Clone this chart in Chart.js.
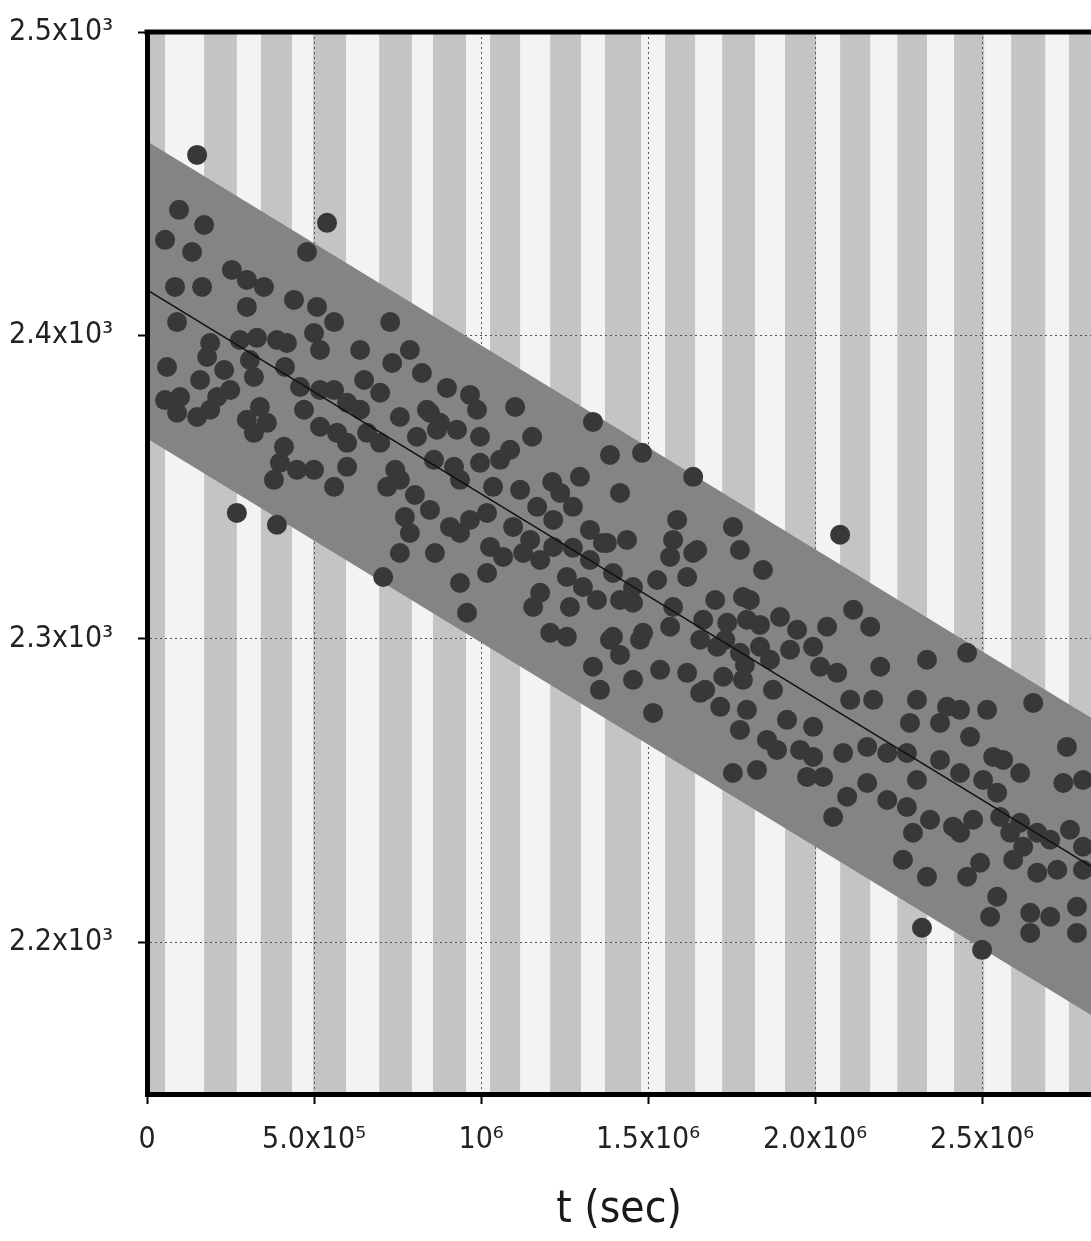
<!DOCTYPE html>
<html><head><meta charset="utf-8">
<style>html,body{margin:0;padding:0;background:#fff;}#wrap{width:1091px;height:1241px;}</style>
<script src="https://cdn.jsdelivr.net/npm/chart.js@4.4.1/dist/chart.umd.min.js"></script>
</head><body><div id="wrap"><canvas id="c" width="1091" height="1241"></canvas></div>
<script>
// time in units of 1e5 s
const tData = [
1.50,0.96,1.71,0.54,1.35,5.39,4.79,0.84,1.65,2.54,2.99,3.50,2.99,4.40,5.09,5.60,5.00,7.28,7.87,7.34,8.23,8.98,0.90,1.89,1.80,2.78,3.29,3.89,4.19,0.60,2.31,3.20,4.13,2.49,2.10,0.99,0.90,1.50,1.89,2.99,3.38,3.59,3.20,4.58,5.18,5.60,4.70,5.99,6.50,6.98,6.38,7.57,8.38,8.08,8.77,9.28,5.18,5.69,5.99,6.59,6.98,4.10,3.98,4.49,5.00,5.99,8.59,9.19,2.69,3.89,3.80,5.60,0.54,
9.67,9.88,11.02,13.35,14.82,13.86,11.53,8.47,8.68,9.97,10.87,10.57,9.97,9.37,7.19,7.57,10.36,11.17,12.13,12.37,12.96,14.16,16.35,11.68,12.75,8.47,7.72,7.87,9.07,9.67,10.18,10.96,11.47,12.16,13.26,13.77,14.37,15.87,15.75,7.57,8.62,10.27,10.66,11.26,12.16,12.75,15.66,16.35,7.07,9.37,10.18,12.57,13.05,13.95,14.55,15.27,16.17,11.77,11.56,12.66,13.47,14.16,15.75,9.58,12.07,13.95,14.85,15.66,
17.54,20.75,13.65,16.47,17.75,18.44,17.84,14.55,21.14,16.65,17.37,17.96,18.95,19.46,20.36,21.65,13.86,14.76,12.57,17.07,17.75,18.35,19.94,13.35,14.55,15.36,16.17,16.56,17.25,17.84,18.74,20.15,20.66,21.05,21.74,15.15,17.16,17.96,19.16,19.94,18.56,17.75,
23.35,24.55,22.84,23.05,23.95,23.74,25.15,24.64,21.95,18.86,19.55,19.94,20.84,21.56,22.16,22.75,23.74,24.34,25.33,17.54,18.26,19.76,20.24,21.56,20.96,22.16,22.75,20.54,23.44,24.13,24.73,25.54,22.93,25.84,22.63,23.35,24.55,24.94,25.93,
26.53,27.54,27.43,28.02,26.65,27.04,27.63,28.02,26.23,26.65,27.25,28.02,25.45,25.24,26.44,27.04,27.84,26.44,27.84,23.20,25.00,24.34,25.63,25.03,26.14,23.05,24.34,25.45,26.14,
17.31,17.90,18.35,18.65,19.25,16.71,14.16,13.56,
8.02,7.43,9.37,17.01,16.56,18.05,11.77,13.26,3.08,1.59,5.18,6.38
];
const yData = [
2459.5,2441.4,2436.4,2431.5,2427.5,2437.1,2427.5,2416.0,2416.0,2421.6,2418.3,2416.0,2409.4,2411.7,2409.4,2404.4,2400.8,2404.4,2395.2,2390.9,2387.6,2382.7,2404.4,2397.5,2392.9,2398.5,2399.2,2398.5,2397.5,2389.6,2388.6,2386.3,2389.6,2382.0,2379.7,2379.7,2374.5,2373.1,2375.5,2372.2,2376.4,2371.2,2367.9,2383.0,2382.0,2382.0,2375.5,2377.8,2385.3,2381.1,2375.5,2373.1,2375.5,2366.6,2371.2,2368.9,2369.9,2367.9,2364.6,2367.9,2364.6,2363.3,2358.0,2355.7,2355.7,2356.7,2359.0,2356.7,2341.5,2337.6,2352.4,2350.1,2378.7,
2380.4,2375.5,2376.4,2371.5,2361.3,2360.6,2366.6,2374.5,2368.9,2366.6,2362.3,2359.0,2358.0,2352.4,2350.1,2352.4,2350.1,2349.1,2351.7,2348.1,2353.4,2348.1,2353.4,2343.5,2343.5,2342.5,2340.2,2334.9,2336.9,2339.2,2341.5,2336.9,2332.6,2339.2,2335.9,2331.6,2332.6,2339.2,2332.6,2328.3,2328.3,2330.3,2327.0,2328.3,2330.3,2330.0,2327.0,2328.3,2320.4,2318.4,2321.7,2320.4,2317.1,2321.7,2317.1,2319.4,2320.4,2315.2,2310.5,2310.5,2312.8,2312.8,2310.5,2308.6,2302.0,2300.7,2302.0,2304.0,
2336.9,2334.3,2331.6,2329.3,2329.3,2322.7,2313.8,2311.9,2309.6,2306.3,2305.3,2306.3,2307.2,2303.0,2304.0,2304.0,2299.7,2299.7,2300.7,2297.4,2295.4,2297.4,2297.4,2290.8,2286.5,2289.8,2288.8,2282.2,2287.5,2286.5,2283.2,2290.8,2288.8,2279.9,2279.9,2275.6,2277.6,2276.6,2273.3,2271.0,2266.7,2270.0,
2293.1,2295.4,2272.3,2279.9,2277.6,2272.3,2276.6,2267.7,2290.8,2263.4,2263.4,2261.1,2262.4,2264.4,2262.4,2262.4,2260.1,2255.8,2261.1,2255.8,2256.8,2254.5,2254.5,2252.5,2248.0,2246.9,2244.6,2241.3,2240.4,2238.1,2240.4,2241.3,2236.1,2236.1,2227.2,2221.6,2221.6,2226.2,2227.2,
2278.9,2264.4,2252.5,2253.5,2236.1,2233.8,2237.1,2231.5,2231.5,2222.9,2223.9,2223.9,2215.0,2208.4,2209.7,2208.4,2211.7,2203.1,2203.1,2204.8,2197.5,2276.6,2260.1,2253.5,2255.8,2253.5,2236.1,2249.3,2239.4,
2299.7,2291.4,2304.6,2293.1,2296.4,2283.2,2294.7,2283.2,
2347.4,2355.7,2334.9,2312.8,2299.7,2312.8,2326.0,2326.0,2391.9,2385.3,2395.2,2395.2
];
// fitted line and band (ends, t in 1e5 s)
const fitT = [0, 28.26];
const fitY = [2415, 2225];
const bandUpper = [2464, 2274];
const bandLower = [2366, 2176];
const xTicks = [0, 5e5, 1e6, 1.5e6, 2e6, 2.5e6];
const xTickLabels = ['0', '5.0x10\u2075', '10\u2076', '1.5x10\u2076', '2.0x10\u2076', '2.5x10\u2076'];
const yTicks = [2200, 2300, 2400, 2500];
const yTickLabels = ['2.2x10\u00B3', '2.3x10\u00B3', '2.4x10\u00B3', '2.5x10\u00B3'];

// decoration: background stripe ranges (1e5 s)
const STRIPES = [[0,0.54],[1.71,2.69],[3.41,4.34],[4.97,5.96],[6.95,7.93],[8.56,9.55],[10.27,11.17],[12.07,12.99],[13.71,14.79],[15.51,16.41],[17.22,18.20],[19.10,20.03],[20.75,21.65],[22.46,23.35],[24.16,25.06],[25.87,26.89],[27.60,28.4]];
const FONT = "'Liberation Sans Narrow','Arial Narrow','DejaVu Sans Condensed','Liberation Sans',Arial,sans-serif";

const bgPlugin = {
  id: 'bg',
  beforeDraw(chart) {
    const {ctx, chartArea: a, scales: {x}} = chart;
    ctx.save();
    ctx.fillStyle = '#fff';
    ctx.fillRect(0, 0, chart.width, chart.height);
    ctx.fillStyle = '#f3f3f3';
    ctx.fillRect(a.left, a.top, a.right - a.left, a.bottom - a.top);
    ctx.fillStyle = '#c4c4c4';
    STRIPES.forEach(([s, e]) => {
      const p1 = Math.max(a.left, x.getPixelForValue(s * 1e5));
      const p2 = Math.min(a.right, x.getPixelForValue(e * 1e5));
      ctx.fillRect(p1, a.top, p2 - p1, a.bottom - a.top);
    });
    ctx.restore();
  },
  afterDraw(chart) {
    const {ctx, chartArea: a} = chart;
    ctx.save();
    ctx.strokeStyle = '#000';
    ctx.lineWidth = 5;
    ctx.beginPath();
    ctx.moveTo(a.left - 2.5, a.top);
    ctx.lineTo(a.right, a.top);
    ctx.stroke();
    ctx.restore();
  }
};

const pts = tData.map((t, i) => ({x: t * 1e5, y: yData[i]}));
new Chart(document.getElementById('c'), {
  type: 'scatter',
  data: {
    datasets: [
      {type: 'line', data: fitT.map((t, i) => ({x: t * 1e5, y: bandUpper[i]})), borderWidth: 0, pointRadius: 0, fill: false, order: 3, clip: 0},
      {type: 'line', data: fitT.map((t, i) => ({x: t * 1e5, y: bandLower[i]})), borderWidth: 0, pointRadius: 0, fill: '-1', backgroundColor: '#848484', order: 2, clip: 0},
      {type: 'line', data: fitT.map((t, i) => ({x: t * 1e5, y: fitY[i]})), borderColor: '#111', borderWidth: 1.5, pointRadius: 0, fill: false, order: 0, clip: 0},
      {data: pts, pointRadius: 10, pointHoverRadius: 10, backgroundColor: '#383838', borderWidth: 0, order: 1, clip: 0}
    ]
  },
  options: {
    responsive: false, animation: false, devicePixelRatio: 1,
    layout: {autoPadding: false, padding: {top: 32, right: 0, left: 0, bottom: 0}},
    plugins: {legend: {display: false}, tooltip: {enabled: false}},
    scales: {
      x: {
        type: 'linear', min: 0, max: 2.826e6,
        afterBuildTicks: s => { s.ticks = xTicks.map(v => ({value: v})); },
        afterFit: s => { s.height = 147; s.paddingLeft = 0; s.paddingRight = 0; },
        ticks: {callback: (v, i) => xTickLabels[i], font: {family: FONT, size: 30}, color: '#222', padding: 18, maxRotation: 0, autoSkip: false},
        grid: {color: '#555', lineWidth: 1, tickLength: 10, tickColor: '#000', tickWidth: 2, z: -1},
        border: {display: true, color: '#000', width: 5, dash: [2, 3], z: 1},
        title: {display: true, text: 't (sec)', font: {family: FONT, size: 44, lineHeight: 1.2}, color: '#1a1a1a', padding: {top: 0, bottom: 4}}
      },
      y: {
        type: 'linear', min: 2150, max: 2500,
        afterBuildTicks: s => { s.ticks = yTicks.map(v => ({value: v})); },
        afterFit: s => { s.width = 147; s.paddingTop = 0; s.paddingBottom = 0; },
        ticks: {callback: (v, i) => yTickLabels[i], font: {family: FONT, size: 30}, color: '#222', padding: 25, autoSkip: false},
        grid: {color: '#555', lineWidth: 1, tickLength: 9, tickColor: '#000', tickWidth: 2, z: -1},
        border: {display: true, color: '#000', width: 5, dash: [2, 3], z: 1}
      }
    }
  },
  plugins: [bgPlugin]
});
</script></body></html>
